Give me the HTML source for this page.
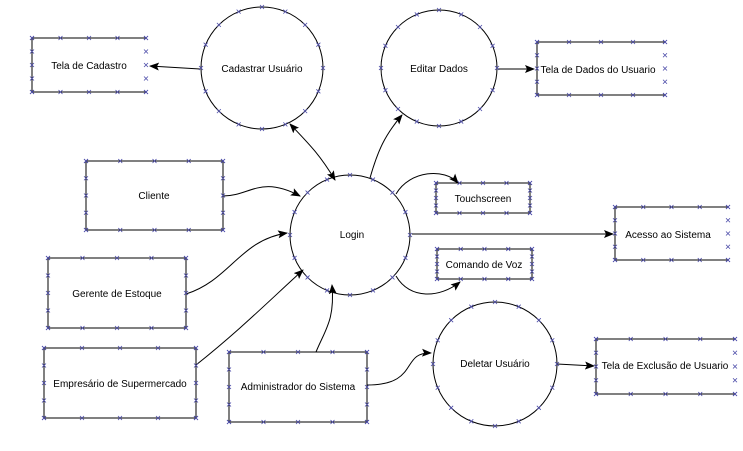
<!DOCTYPE html>
<html><head><meta charset="utf-8"><style>
html,body{margin:0;padding:0;background:#fff;width:743px;height:451px;overflow:hidden}
svg text{font-family:"Liberation Sans",sans-serif;font-size:10px;fill:#000}
</style></head><body>
<svg id="s" width="743" height="451" viewBox="0 0 743 451" xmlns="http://www.w3.org/2000/svg">
<defs><marker id="a" markerWidth="10" markerHeight="8" refX="9" refY="4" orient="auto" markerUnits="userSpaceOnUse"><path d="M0,0 L10,4 L0,8 L2,4 Z" fill="#000"/></marker>
<marker id="b" markerWidth="10" markerHeight="8" refX="1" refY="4" orient="auto" markerUnits="userSpaceOnUse"><path d="M10,0 L0,4 L10,8 L8,4 Z" fill="#000"/></marker></defs>
<g fill="none" stroke="#000" stroke-width="1">
<path d="M146,38 H32 V92 H146"/>
<path d="M665,42 H537 V95 H665"/>
<path d="M728,207 H615 V260 H728"/>
<path d="M735,339 H596 V394 H735"/>
<rect x="86" y="161" width="137" height="69"/>
<rect x="436" y="183" width="94" height="30"/>
<rect x="437" y="249" width="95" height="30"/>
<rect x="48" y="258" width="138" height="70"/>
<rect x="44" y="348" width="152" height="70"/>
<rect x="229" y="352" width="138" height="70"/>
<circle cx="262" cy="68" r="61"/>
<circle cx="439" cy="68" r="58"/>
<circle cx="350" cy="235" r="60"/>
<circle cx="495" cy="364" r="62"/>
<path d="M200,69 L150,66" marker-end="url(#a)"/>
<path d="M498,69 L534,69" marker-end="url(#a)"/>
<path d="M290,124 C310,145 320,155 335,180" marker-start="url(#b)" marker-end="url(#a)"/>
<path d="M370,178 C378,150 385,135 402,115" marker-end="url(#a)"/>
<path d="M223,196 C250,196 260,175 300,196" marker-end="url(#a)"/>
<path d="M186,294 C230,280 240,240 287,233" marker-end="url(#a)"/>
<path d="M196,365 C240,330 270,300 303,270" marker-end="url(#a)"/>
<path d="M316,352 C325,330 335,320 332,285" marker-end="url(#a)"/>
<path d="M396,194 C410,170 445,168 458,183" marker-end="url(#a)"/>
<path d="M396,276 C410,300 440,298 460,282" marker-end="url(#a)"/>
<path d="M412,234 L613,234" marker-end="url(#a)"/>
<path d="M367,385 C420,385 400,352 431,353" marker-end="url(#a)"/>
<path d="M557,364 L594,366" marker-end="url(#a)"/>
</g>
<g id="m" stroke="#4a4aa8" stroke-width="0.8"></g>
<text x="89" y="69" text-anchor="middle">Tela de Cadastro</text>
<text x="262" y="72" text-anchor="middle">Cadastrar Usuário</text>
<text x="439" y="72" text-anchor="middle">Editar Dados</text>
<text x="598" y="73" text-anchor="middle">Tela de Dados do Usuario</text>
<text x="154" y="199" text-anchor="middle">Cliente</text>
<text x="352" y="238" text-anchor="middle">Login</text>
<text x="483" y="202" text-anchor="middle">Touchscreen</text>
<text x="484" y="268" text-anchor="middle">Comando de Voz</text>
<text x="668" y="238" text-anchor="middle">Acesso ao Sistema</text>
<text x="117" y="297" text-anchor="middle">Gerente de Estoque</text>
<text x="120" y="387" text-anchor="middle">Empresário de Supermercado</text>
<text x="298" y="390" text-anchor="middle">Administrador do Sistema</text>
<text x="495" y="367" text-anchor="middle">Deletar Usuário</text>
<text x="665" y="369" text-anchor="middle">Tela de Exclusão de Usuario</text>
</svg>
<script>
var g=document.getElementById('m'),ns='http://www.w3.org/2000/svg';
function x(cx,cy){var l=document.createElementNS(ns,'path');l.setAttribute('d','M'+(cx-2)+','+(cy-2)+'L'+(cx+2)+','+(cy+2)+'M'+(cx+2)+','+(cy-2)+'L'+(cx-2)+','+(cy+2));g.appendChild(l);}
function box(a,b,w,h){for(var i=0;i<=4;i++){x(a+w*i/4,b);x(a+w*i/4,b+h);x(a,b+h*i/4);x(a+w,b+h*i/4);}}
[[32,38,114,54],[537,42,128,53],[615,207,113,53],[596,339,139,55],[86,161,137,69],[436,183,94,30],[437,249,95,30],[48,258,138,70],[44,348,152,70],[229,352,138,70]].forEach(function(r){box.apply(null,r)});
[[262,68,61],[439,68,58],[350,235,60],[495,364,62]].forEach(function(c){for(var i=0;i<16;i++){var t=i*Math.PI/8;x(c[0]+c[2]*Math.cos(t),c[1]+c[2]*Math.sin(t));}});
</script>
</body></html>
